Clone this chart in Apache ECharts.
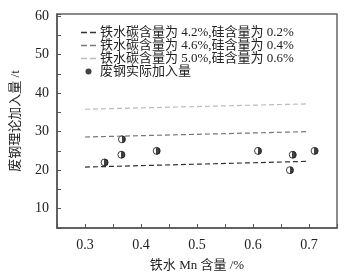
<!DOCTYPE html>
<html>
<head>
<meta charset="utf-8">
<script src="https://cdn.jsdelivr.net/npm/echarts@6/dist/echarts.min.js"></script>
<style>
  html, body { margin: 0; padding: 0; background: #fff; }
  #chart { width: 356px; height: 277px; }
</style>
</head>
<body>
<div id="chart"></div>
<script>
var legendNames = [
  '铁水碳含量为 4.2%,硅含量为 0.2%',
  '铁水碳含量为 4.6%,硅含量为 0.4%',
  '铁水碳含量为 5.0%,硅含量为 0.6%',
  '废钢实际加入量'
]
// theoretical lines (x, y) end points
var line42 = [[0.3, 20.8], [0.7, 22.3]]
var line46 = [[0.3, 28.6], [0.7, 30.0]]
var line50 = [[0.3, 35.8], [0.7, 37.2]]
// actual scrap addition
var actualMn = [0.335, 0.366, 0.365, 0.428, 0.609, 0.671, 0.666, 0.71]
var actualT = [22, 28, 24, 25, 25, 24, 20, 25]

var chart = echarts.init(document.getElementById('chart'))
var font = '"Liberation Serif", "Noto Sans CJK SC", serif'
var halfFill = new echarts.graphic.LinearGradient(0, 0, 1, 0, [
  { offset: 0, color: '#fff' },
  { offset: 0.45, color: '#fff' },
  { offset: 0.45, color: '#111' },
  { offset: 1, color: '#111' }
])

function dashLine(name, data, color) {
  return {
    name: name,
    type: 'line',
    data: data,
    showSymbol: false,
    symbol: 'none',
    silent: true,
    lineStyle: { color: color, width: 1.2, type: [5, 3] },
    itemStyle: { color: color }
  }
}

chart.setOption({
  backgroundColor: '#fff',
  animation: false,
  textStyle: { fontFamily: font },
  grid: {
    left: 57,
    right: 19,
    top: 14,
    bottom: 41,
    show: true,
    borderColor: '#666',
    borderWidth: 1.5
  },
  legend: {
    data: legendNames.map(function(n, i) {
      return i < 3
        ? { name: n, icon: 'path://M0,4h6v1.5h-6zM9,4h6v1.5h-6z' }
        : { name: n, icon: 'circle', itemStyle: { color: '#111', borderWidth: 0 } }
    }),
    orient: 'vertical',
    left: 76,
    top: 21,
    itemWidth: 15,
    itemHeight: 6,
    itemGap: 0,
    textStyle: { fontSize: 13, lineHeight: 12, color: '#222', fontFamily: font, padding: [0, 0, 0, -1] }
  },
  xAxis: {
    type: 'value',
    min: 0.25,
    max: 0.75,
    interval: 0.05,
    name: '铁水 Mn 含量 /%',
    nameLocation: 'middle',
    nameGap: 31,
    nameTextStyle: { fontSize: 13, color: '#222' },
    splitLine: { show: false },
    axisLine: { lineStyle: { color: '#555', width: 1.5 } },
    axisTick: { inside: true, length: 4, lineStyle: { color: '#555' } },
    axisLabel: {
      fontSize: 14,
      color: '#222',
      margin: 10,
      formatter: function(v) {
        var k = Math.round(v * 100)
        return k % 10 === 0 ? (k / 100).toFixed(1) : ''
      }
    }
  },
  yAxis: {
    type: 'value',
    min: 5,
    max: 60.5,
    interval: 5,
    name: '废钢理论加入量 /t',
    nameLocation: 'middle',
    nameGap: 35,
    nameTextStyle: { fontSize: 13, color: '#222' },
    splitLine: { show: false },
    axisLine: { lineStyle: { color: '#555', width: 1.5 } },
    axisTick: { inside: true, length: 4, lineStyle: { color: '#555' } },
    axisLabel: {
      fontSize: 14,
      color: '#222',
      margin: 8,
      formatter: function(v) {
        return v % 10 === 0 ? String(v) : ''
      }
    }
  },
  series: [
    dashLine(legendNames[0], line42, '#333'),
    dashLine(legendNames[1], line46, '#777'),
    dashLine(legendNames[2], line50, '#bbb'),
    {
      name: legendNames[3],
      type: 'scatter',
      symbolSize: 7,
      data: actualMn.map(function(x, i) { return [x, actualT[i]] }),
      itemStyle: { color: halfFill, borderColor: '#111', borderWidth: 1 }
    }
  ]
})
</script>
</body>
</html>
